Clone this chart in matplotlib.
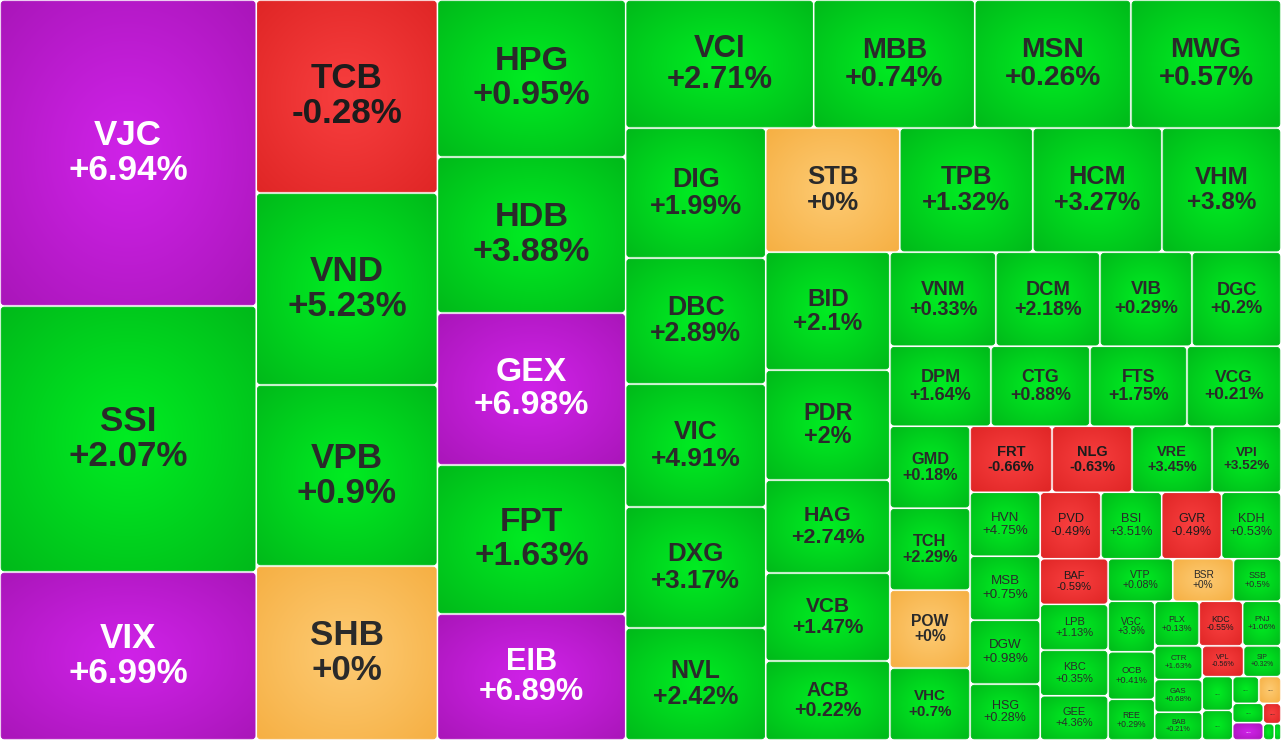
import numpy as np
import matplotlib
matplotlib.use('Agg')
import matplotlib.pyplot as plt
from matplotlib.patches import FancyBboxPatch
from matplotlib.colors import to_rgb

W, H = 1281, 740

tickers = ['VJC', 'SSI', 'VIX', 'TCB', 'VND', 'VPB', 'SHB', 'HPG', 'HDB', 'GEX', 'FPT', 'EIB',
           'VCI', 'MBB', 'MSN', 'MWG', 'DIG', 'DBC', 'VIC', 'DXG', 'NVL',
           'STB', 'TPB', 'HCM', 'VHM', 'BID', 'PDR', 'HAG', 'VCB', 'ACB',
           'VNM', 'DCM', 'VIB', 'DGC', 'DPM', 'CTG', 'FTS', 'VCG',
           'GMD', 'TCH', 'POW', 'VHC', 'FRT', 'NLG', 'VRE', 'VPI',
           'HVN', 'MSB', 'DGW', 'HSG', 'PVD', 'BSI', 'GVR', 'KDH',
           'BAF', 'LPB', 'KBC', 'GEE', 'VTP', 'BSR', 'SSB', 'VGC', 'OCB', 'REE',
           'PLX', 'KDC', 'PNJ', 'CTR', 'GAS', 'BAB', 'VPL', 'SIP',
           '...', '...', '...', '...', '...', '...', '...', '...', '...']

# traded value (relative)
values = [7834, 6810, 4301, 3493, 3475, 3276, 3149, 2952, 2933, 2858, 2801, 2369,
          2406, 2061, 1997, 1920, 1820, 1764, 1722, 1694, 1568,
          1662, 1649, 1600, 1476, 1463, 1364, 1153, 1091, 980,
          996, 978, 865, 837, 808, 792, 776, 752,
          656, 656, 624, 576, 541, 528, 528, 455,
          448, 448, 448, 392, 403, 403, 397, 395,
          310, 310, 310, 300, 275, 258, 202, 235, 221, 189,
          198, 194, 171, 160, 155, 132, 127, 115,
          103, 90, 70, 59, 59, 53, 36, 18, 11]

changes = [6.94, 2.07, 6.99, -0.28, 5.23, 0.9, 0, 0.95, 3.88, 6.98, 1.63, 6.89,
           2.71, 0.74, 0.26, 0.57, 1.99, 2.89, 4.91, 3.17, 2.42,
           0, 1.32, 3.27, 3.8, 2.1, 2, 2.74, 1.47, 0.22,
           0.33, 2.18, 0.29, 0.2, 1.64, 0.88, 1.75, 0.21,
           0.18, 2.29, 0, 0.7, -0.66, -0.63, 3.45, 3.52,
           4.75, 0.75, 0.98, 0.28, -0.49, 3.51, -0.49, 0.53,
           -0.59, 1.13, 0.35, 4.36, 0.08, 0, 0.5, 3.9, 0.41, 0.29,
           0.13, -0.55, 1.06, 1.63, 0.68, 0.21, -0.56, 0.32,
           1.0, 1.0, 1.0, 0, 1.0, 6.9, -0.5, 1.0, 1.0]

# center / edge colours of the radial fill
FILL = {
    'up': ('#00ec22', '#00ba1a'),
    'down': ('#f73e3e', '#e02626'),
    'ref': ('#fdca72', '#f6b044'),
    'ceil': ('#cf22e8', '#aa16ba'),
}
TEXT = {'up': '#2a2a2a', 'down': '#1c1c1c', 'ref': '#2a2a2a', 'ceil': 'white'}

RHO = 1.2  # preferred width/height of a cell


def badness(row, w, h):
    # worst screen aspect of the cells if `row` is laid along the short side
    s = sum(row)
    out = 0
    for a in row:
        if w > h:
            t = s / h
            r = t * t / a
        else:
            t = s / w
            r = a / (t * t)
        out = max(out, r / RHO, RHO / r)
    return out


def squarify(vals, x, y, w, h):
    scale = w * h / sum(vals)
    areas = [v * scale for v in vals]
    rects = []
    i, n = 0, len(areas)
    while i < n:
        row = [areas[i]]
        best = badness(row, w, h)
        j = i + 1
        while j < n:
            s = badness(row + [areas[j]], w, h)
            if s > best:
                break
            row.append(areas[j])
            best = s
            j += 1
        total = sum(row)
        if w > h:
            t = total / h if j < n else w
            yy = y
            for a in row:
                rects.append((x, yy, t, a / t))
                yy += a / t
            x += t
            w -= t
        else:
            t = total / w if j < n else h
            xx = x
            for a in row:
                rects.append((xx, y, a / t, t))
                xx += a / t
            y += t
            h -= t
        i = j
    return rects


def kind(p):
    if p >= 6.5:
        return 'ceil'
    if p > 0:
        return 'up'
    if p < 0:
        return 'down'
    return 'ref'


def fmt(p):
    s = ('%+.2f' % p).rstrip('0').rstrip('.')
    if s in ('+0', '-0'):
        s = '+0'
    return s + '%'


g = np.linspace(-1, 1, 48)
gx, gy = np.meshgrid(g, g)
rad = np.clip(np.sqrt(gx ** 2 + gy ** 2) / np.sqrt(2), 0, 1) ** 1.1

fig = plt.figure(figsize=(12.81, 7.40), dpi=100)
fig.patch.set_facecolor('white')
ax = fig.add_axes([0, 0, 1, 1])
ax.set_xlim(0, W)
ax.set_ylim(H, 0)
ax.axis('off')

pad = 1.2
for (x, y, w, h), name, p in zip(squarify(values, 0, 0, W, H), tickers, changes):
    k = kind(p)
    c0 = np.array(to_rgb(FILL[k][0]))
    c1 = np.array(to_rgb(FILL[k][1]))
    img = c0 + (c1 - c0) * rad[..., None]
    x0, y0 = x + pad, y + pad
    ww, hh = max(w - 2 * pad, 0.5), max(h - 2 * pad, 0.5)
    rs = min(3, ww / 3, hh / 3)
    box = FancyBboxPatch((x0, y0), ww, hh, boxstyle='round,pad=0,rounding_size=%.2f' % rs,
                         facecolor='none', edgecolor=FILL[k][1], linewidth=0.6)
    ax.add_patch(box)
    im = ax.imshow(img, extent=(x0, x0 + ww, y0 + hh, y0), interpolation='bilinear',
                   aspect='auto', zorder=1)
    im.set_clip_path(box)

    cx, cy = x + w / 2, y + h / 2
    label = fmt(p)
    px = min(35, 0.2 * np.sqrt(w * h), 0.88 * w / (0.6 * len(label)), 0.42 * h)
    if name == '...' or px < 6.5:
        if w > 14 and h > 10:
            ax.text(cx, cy, '...', ha='center', va='center', fontsize=5,
                    color=TEXT[k], family='Liberation Sans', zorder=3)
        continue
    weight = 'bold' if px >= 13.45 else 'normal'
    fs = px * 0.72
    ax.text(cx, cy - px * 0.5, name, ha='center', va='center', fontsize=fs,
            fontweight=weight, color=TEXT[k], family='Liberation Sans', zorder=3)
    ax.text(cx, cy + px * 0.5, label, ha='center', va='center', fontsize=fs,
            fontweight=weight, color=TEXT[k], family='Liberation Sans', zorder=3)

fig.savefig('out.png', dpi=100, facecolor='white')
